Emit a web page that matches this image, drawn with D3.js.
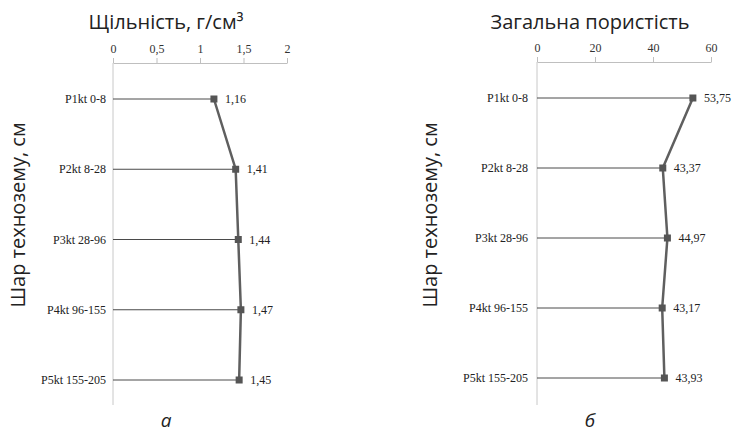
<!DOCTYPE html>
<html>
<head>
<meta charset="utf-8">
<script src="https://cdn.jsdelivr.net/npm/d3@7"></script>
<style>
  body { margin: 0; background: #fff; }
  svg { display: block; }
</style>
</head>
<body>
<svg id="chart" width="733" height="434"></svg>
<script>
// Technosol layer profiles: bulk density (a) and total porosity (б)

const LAYERS = ["P1kt 0-8", "P2kt 8-28", "P3kt 28-96", "P4kt 96-155", "P5kt 155-205"];
const DENSITY = [1.16, 1.41, 1.44, 1.47, 1.45];
const POROSITY = [53.75, 43.37, 44.97, 43.17, 43.93];
const DENSITY_TICKS = [0, 0.5, 1, 1.5, 2];
const POROSITY_TICKS = [0, 20, 40, 60];

const uk = d3.formatLocale({ decimal: ",", thousands: " ", grouping: [3], currency: ["", ""] });

const SERIF = "'Liberation Serif','Times New Roman',serif";
const SANS = "'Open Sans','Noto Sans',sans-serif";

const svg = d3.select("#chart");

// ── Panel builder ─────────────────────────────────────────────
function buildPanel(opts) {
  const { values, ticks, domain, x0, x1, axisY, yTop, yBot, axisBottom,
          title, titleX, letter, yTitleX, valFmt, tickFmt, catDx } = opts;

  const xs = d3.scaleLinear().domain(domain).range([x0, x1]);
  const ys = d3.scalePoint().domain(LAYERS).range([yTop, yBot]);

  const g = svg.append("g");

  // top value axis
  const ax = g.append("g").attr("transform", `translate(0,${axisY})`)
    .call(d3.axisTop(xs).tickValues(ticks).tickFormat(tickFmt).tickSize(5).tickPadding(5).tickSizeOuter(0));
  ax.select(".domain").attr("stroke", "#bfbfbf");
  ax.selectAll(".tick line").attr("stroke", "#bfbfbf");
  ax.selectAll("text").attr("fill", "#333").attr("font-family", SERIF).attr("font-size", "12px");

  // vertical category axis
  g.append("line")
    .attr("x1", xs(domain[0])).attr("x2", xs(domain[0]))
    .attr("y1", axisY).attr("y2", axisBottom)
    .attr("stroke", "#c8c8c8");

  LAYERS.forEach((c, i) => {
    g.append("text")
      .attr("x", xs(domain[0]) + catDx).attr("y", ys(c)).attr("dy", "0.35em")
      .attr("text-anchor", "end")
      .attr("fill", "#222").attr("font-family", SERIF).attr("font-size", "12px")
      .text(c);
    // leader line from the axis to the marker
    g.append("line")
      .attr("x1", xs(domain[0])).attr("x2", xs(values[i]))
      .attr("y1", ys(c)).attr("y2", ys(c))
      .attr("stroke", "#4a4a4a").attr("stroke-width", 1);
  });

  // connecting line
  g.append("path")
    .attr("d", d3.line().x((d, i) => xs(d)).y((d, i) => ys(LAYERS[i]))(values))
    .attr("fill", "none").attr("stroke", "#5f5f5f").attr("stroke-width", 2.5);

  // markers and value labels
  values.forEach((v, i) => {
    g.append("rect")
      .attr("x", xs(v) - 3.5).attr("y", ys(LAYERS[i]) - 3.5)
      .attr("width", 7).attr("height", 7)
      .attr("fill", "#555");
    g.append("text")
      .attr("x", xs(v) + 11).attr("y", ys(LAYERS[i])).attr("dy", "0.35em")
      .attr("fill", "#222").attr("font-family", SERIF).attr("font-size", "12px")
      .text(valFmt(v));
  });

  // titles
  g.append("text")
    .attr("x", titleX).attr("y", 29).attr("text-anchor", "middle")
    .attr("fill", "#222").attr("font-family", SANS).attr("font-size", "20px")
    .text(title);

  g.append("text")
    .attr("transform", `translate(${yTitleX},215) rotate(-90)`)
    .attr("text-anchor", "middle").attr("dy", "0.35em")
    .attr("fill", "#222").attr("font-family", SANS).attr("font-size", "20px")
    .text("Шар технозему, см");

  g.append("text")
    .attr("x", titleX).attr("y", 427).attr("text-anchor", "middle")
    .attr("fill", "#222").attr("font-family", SANS).attr("font-size", "19px")
    .attr("font-style", "italic")
    .text(letter);
}

buildPanel({
  values: DENSITY, ticks: DENSITY_TICKS, domain: [0, 2],
  x0: 113, x1: 287, axisY: 63, yTop: 99, yBot: 380, axisBottom: 405,
  title: "Щільність, г/см³", titleX: 166, letter: "а", yTitleX: 18,
  valFmt: uk.format(".2f"), tickFmt: d => uk.format("")(d), catDx: -7
});

buildPanel({
  values: POROSITY, ticks: POROSITY_TICKS, domain: [0, 60],
  x0: 537, x1: 711, axisY: 62, yTop: 98, yBot: 378, axisBottom: 405,
  title: "Загальна пористість", titleX: 590, letter: "б", yTitleX: 430,
  valFmt: uk.format(".2f"), tickFmt: d => uk.format("")(d), catDx: -9
});
</script>
</body>
</html>
